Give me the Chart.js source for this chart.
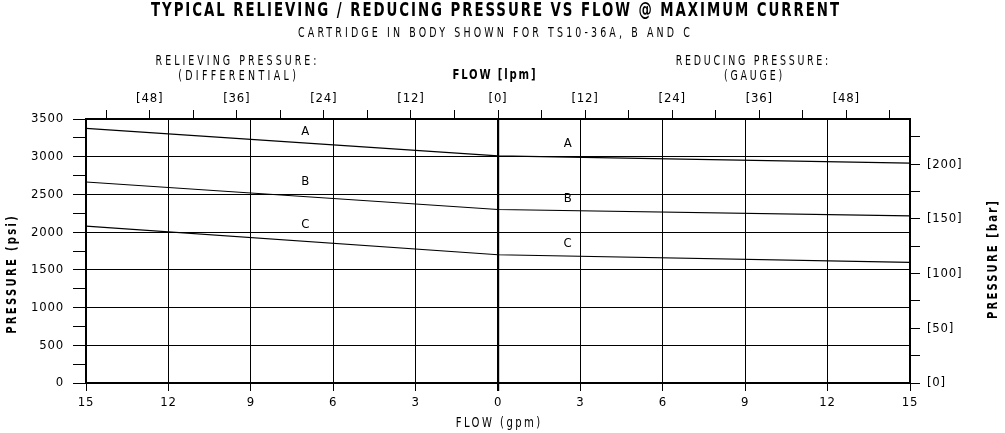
<!DOCTYPE html>
<html>
<head>
<meta charset="utf-8">
<script src="https://cdn.jsdelivr.net/npm/chart.js@4.4.1/dist/chart.umd.min.js"></script>
<style>
  body { margin: 0; background: #fff; }
  #wrap { width: 1005px; height: 433px; }
</style>
</head>
<body>
<div id="wrap"><canvas id="pressureChart"></canvas></div>
<script>
// flow in gpm: negative side = relieving (differential), positive side = reducing (gauge)
const flowGpm = [-15, 0, 15];
const pressureA = [3375, 3010, 2915];
const pressureB = [2665, 2300, 2215];
const pressureC = [2080, 1700, 1600];

const curveNames = ["A", "B", "C"];
// where the A / B / C tags sit (gpm, psi)
const tagFlow = [-7, 2.55];
const tagPsiLeft = [3335, 2675, 2095];
const tagPsiRight = [3170, 2445, 1845];

const GPM_TO_LPM = 3.785;
const PSI_PER_BAR = 14.5038;
const FONT = "'DejaVu Sans Condensed', 'Liberation Sans Narrow', 'DejaVu Sans', sans-serif";

function pts(values) {
  return flowGpm.map((f, i) => ({ x: f, y: values[i] }));
}

// draw text narrowed and spaced out to a given width, like the plotter lettering
function fitText(ctx, text, cx, cy, font, width, squeeze, angle) {
  ctx.save();
  ctx.font = font;
  ctx.letterSpacing = "0px";
  const w0 = ctx.measureText(text).width;
  const ls = (width / squeeze - w0) / text.length;
  ctx.letterSpacing = ls + "px";
  ctx.translate(cx, cy);
  if (angle) ctx.rotate(angle);
  ctx.scale(squeeze, 1);
  ctx.textAlign = "center";
  ctx.textBaseline = "middle";
  ctx.fillStyle = "#000";
  ctx.fillText(text, ls / 2, 0);
  ctx.restore();
}

const headers = {
  id: "headers",
  beforeDraw(chart) {
    chart.ctx.letterSpacing = "0.8px";
  },
  afterDraw(chart) {
    const ctx = chart.ctx;
    fitText(ctx, "TYPICAL RELIEVING / REDUCING PRESSURE VS FLOW @ MAXIMUM CURRENT", 495, 11, "bold 19px " + FONT, 690, 0.78);
    fitText(ctx, "CARTRIDGE IN BODY SHOWN FOR TS10-36A, B AND C", 494, 33, "14px " + FONT, 395, 0.75);
    fitText(ctx, "RELIEVING PRESSURE:", 236, 61, "14px " + FONT, 164, 0.75);
    fitText(ctx, "(DIFFERENTIAL)", 237, 76, "14px " + FONT, 121, 0.75);
    fitText(ctx, "FLOW [lpm]", 494, 75, "bold 14px " + FONT, 85, 0.8);
    fitText(ctx, "REDUCING PRESSURE:", 752, 61, "14px " + FONT, 155, 0.75);
    fitText(ctx, "(GAUGE)", 753, 76, "14px " + FONT, 61, 0.75);
    fitText(ctx, "PRESSURE (psi)", 12, 275, "bold 14px " + FONT, 120, 0.8, -Math.PI / 2);
    fitText(ctx, "PRESSURE [bar]", 993, 260, "bold 14px " + FONT, 120, 0.8, -Math.PI / 2);
    fitText(ctx, "FLOW (gpm)", 498, 423, "14px " + FONT, 87, 0.8);

    const xs = chart.scales.x, ys = chart.scales.y;
    ctx.save();
    ctx.font = "13px " + FONT;
    ctx.fillStyle = "#000";
    ctx.textAlign = "center";
    ctx.textBaseline = "middle";
    curveNames.forEach((n, i) => {
      ctx.fillText(n, xs.getPixelForValue(tagFlow[0]), ys.getPixelForValue(tagPsiLeft[i]));
      ctx.fillText(n, xs.getPixelForValue(tagFlow[1]), ys.getPixelForValue(tagPsiRight[i]));
    });
    ctx.restore();
  }
};

const tickFont = { family: FONT, size: 13 };

let ctx = document.getElementById("pressureChart").getContext("2d");
let myChart = new Chart(ctx, {
  type: "line",
  data: {
    datasets: [pressureA, pressureB, pressureC].map((vals, i) => ({
      label: curveNames[i],
      data: pts(vals),
      borderColor: "#000",
      borderWidth: 1.2,
      pointRadius: 0,
      tension: 0,
      xAxisID: "x",
      yAxisID: "y",
    })),
  },
  options: {
    responsive: true,
    maintainAspectRatio: false,
    animation: false,
    layout: { padding: 0 },
    plugins: { legend: { display: false }, tooltip: { enabled: false } },
    scales: {
      x: {
        type: "linear",
        position: "bottom",
        min: -15,
        max: 15,
        afterFit: (s) => { s.height = 50; },
        ticks: {
          stepSize: 3, autoSkip: false, maxRotation: 0, padding: 4,
          color: "#000", font: tickFont,
          callback: (v) => Math.abs(v),
        },
        grid: {
          color: "#000",
          lineWidth: (c) => (c.tick && c.tick.value === 0 ? 2.2 : 1),
          tickLength: 8,
        },
        border: { color: "#000", width: 2 },
      },
      x2: {
        type: "linear",
        position: "top",
        min: -15 * GPM_TO_LPM,
        max: 15 * GPM_TO_LPM,
        afterFit: (s) => { s.height = 119; },
        ticks: {
          stepSize: 6, includeBounds: false, autoSkip: false, maxRotation: 0, padding: 4,
          color: "#000", font: tickFont,
          callback: (v) => (v % 12 === 0 ? "[" + Math.abs(v) + "]" : ""),
        },
        grid: { drawOnChartArea: false, color: "#000", tickLength: 9 },
        border: { color: "#000", width: 2 },
      },
      y: {
        position: "left",
        min: 0,
        max: 3500,
        afterFit: (s) => { s.width = 86; },
        ticks: {
          stepSize: 250, autoSkip: false, padding: 9,
          color: "#000", font: tickFont,
          callback: (v) => (v % 500 === 0 ? String(v) : ""),
        },
        grid: {
          color: (c) => (c.tick && c.tick.value % 500 === 0 ? "#000" : "rgba(0,0,0,0)"),
          tickColor: "#000",
          tickLength: 13,
        },
        border: { color: "#000", width: 2 },
      },
      y2: {
        position: "right",
        min: 0,
        max: 3500 / PSI_PER_BAR,
        afterFit: (s) => { s.width = 95; },
        ticks: {
          stepSize: 25, includeBounds: false, autoSkip: false, padding: 7,
          color: "#000", font: tickFont,
          callback: (v) => (v % 50 === 0 ? "[" + v + "]" : ""),
        },
        grid: { drawOnChartArea: false, color: "#000", tickLength: 10 },
        border: { color: "#000", width: 2 },
      },
    },
  },
  plugins: [headers],
});
</script>
</body>
</html>
